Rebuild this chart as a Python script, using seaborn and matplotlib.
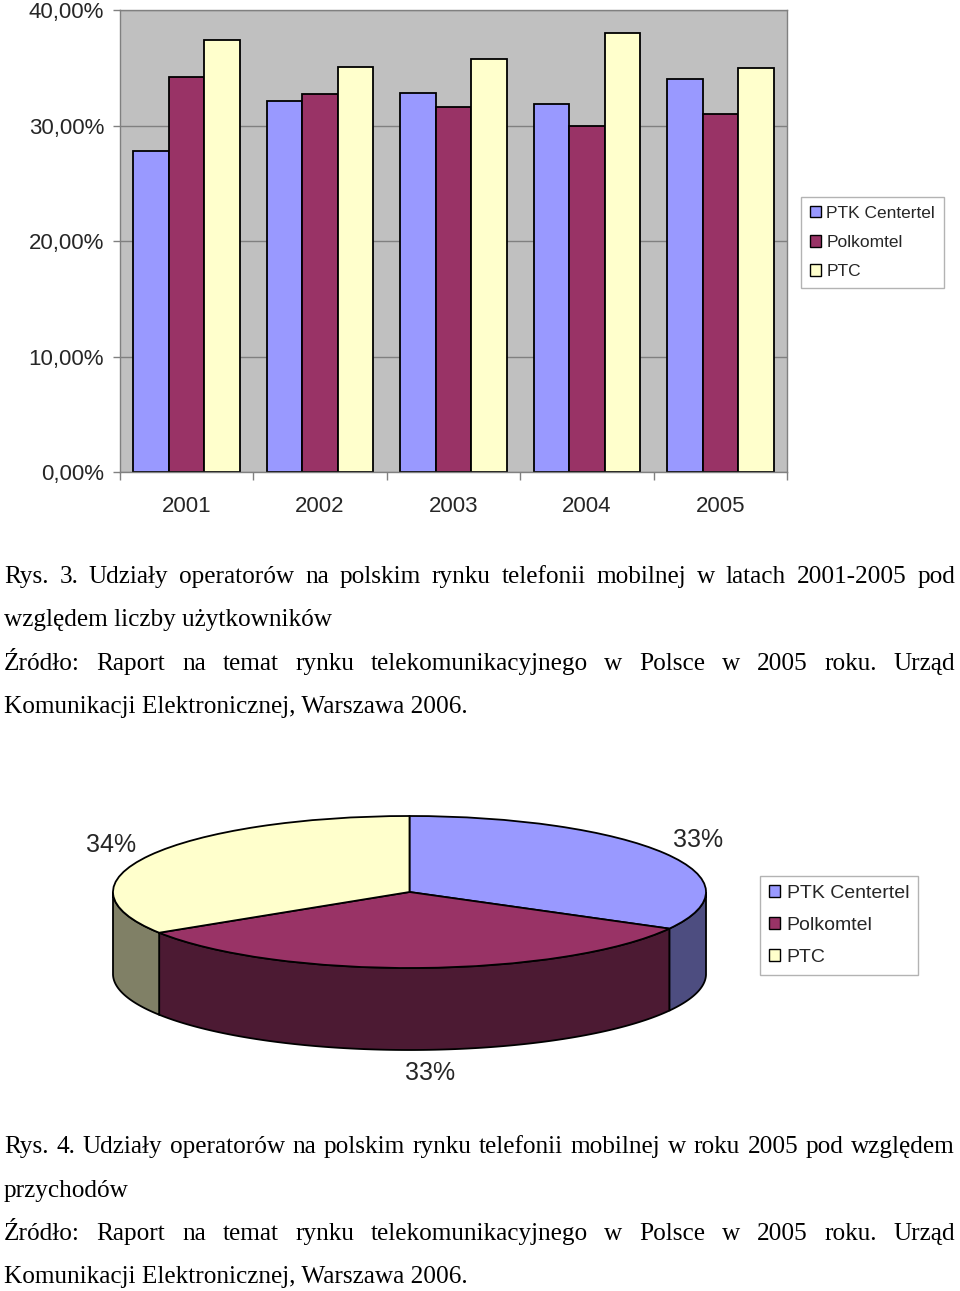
import numpy as np
import pandas as pd
import matplotlib
matplotlib.use("Agg")
import matplotlib.pyplot as plt
import seaborn as sns
from matplotlib.patches import Patch
from matplotlib.ticker import FuncFormatter, FixedLocator

# ---------------- data ----------------
years = ["2001", "2002", "2003", "2004", "2005"]
operators = ["PTK Centertel", "Polkomtel", "PTC"]
ptk_centertel = [27.8, 32.1, 32.8, 31.9, 34.0]
polkomtel = [34.2, 32.7, 31.6, 30.0, 31.0]
ptc = [37.4, 35.1, 35.8, 38.0, 35.0]
y_ticks = [0, 10, 20, 30, 40]
pie_shares = [33, 33, 34]          # PTK Centertel, Polkomtel, PTC (2005 revenue)

caption_3 = [
    ("Rys. 3. Udziały operatorów na polskim rynku telefonii mobilnej w latach 2001-2005 pod", True),
    ("względem liczby użytkowników", False),
    ("Źródło: Raport na temat rynku telekomunikacyjnego w Polsce w 2005 roku. Urząd", True),
    ("Komunikacji Elektronicznej, Warszawa 2006.", False),
]
caption_4 = [
    ("Rys. 4. Udziały operatorów na polskim rynku telefonii mobilnej w roku 2005 pod względem", True),
    ("przychodów", False),
    ("Źródło: Raport na temat rynku telekomunikacyjnego w Polsce w 2005 roku. Urząd", True),
    ("Komunikacji Elektronicznej, Warszawa 2006.", False),
]

# ---------------- style ----------------
colors = ["#9999FF", "#993366", "#FFFFCC"]
side_colors = ["#4D4D80", "#4C1A33", "#808066"]

sns.set_theme(style="white")
plt.rcParams["font.family"] = ["Liberation Sans", "DejaVu Sans"]

W, H = 960, 1291
fig = plt.figure(figsize=(W / 100, H / 100), dpi=100)


def px_rect(x0, y0, x1, y1):
    return [x0 / W, 1 - y1 / H, (x1 - x0) / W, (y1 - y0) / H]


# ---------------- bar chart ----------------
ax = fig.add_axes(px_rect(120, 10, 787, 472))
df = pd.DataFrame({
    "year": years * 3,
    "operator": np.repeat(operators, len(years)),
    "share": ptk_centertel + polkomtel + ptc,
})
sns.barplot(data=df, x="year", y="share", hue="operator", hue_order=operators,
            order=years, palette=colors, saturation=1, width=0.8,
            edgecolor="black", linewidth=1.3, legend=False, ax=ax)
ax.set_facecolor("#C0C0C0")
ax.set_ylim(0, 40)
ax.set_xlim(-0.5, len(years) - 0.5)
ax.set_xlabel("")
ax.set_ylabel("")
ax.yaxis.set_major_locator(FixedLocator(y_ticks))
ax.yaxis.set_major_formatter(FuncFormatter(lambda v, p: f"{v:.2f}".replace(".", ",") + "%"))
ax.yaxis.grid(True, color="#808080", linewidth=1)
ax.set_axisbelow(True)
for s in ax.spines.values():
    s.set_color("#808080")
    s.set_linewidth(1)
ax.tick_params(axis="y", which="major", length=5, width=1, color="#808080",
               direction="out", pad=6.5, labelsize=16, left=True)
ax.tick_params(axis="x", which="major", length=0, pad=17, labelsize=16)
ax.xaxis.set_minor_locator(FixedLocator(np.arange(-0.5, len(years), 1.0)))
ax.tick_params(axis="x", which="minor", length=6, width=1, color="#808080",
               direction="out", bottom=True)

bar_handles = [Patch(facecolor=c, edgecolor="black", linewidth=1) for c in colors]
fig.legend(bar_handles, operators, loc="upper left",
           bbox_to_anchor=(801 / W, 1 - 197 / H), frameon=True, fancybox=False,
           edgecolor="#A0A0A0", fontsize=12.5, handlelength=0.65, handleheight=0.65,
           handletextpad=0.3, labelspacing=0.82, borderpad=0.5, borderaxespad=0)

# ---------------- 3D-like pie ----------------
cx, cy, rx, ry, depth_px = 409.5, 892, 296.5, 76, 82
pax = fig.add_axes(px_rect(100, 800, 720, 1070))
wedges, _ = pax.pie(pie_shares, colors=colors, startangle=90, counterclock=False,
                    wedgeprops=dict(edgecolor="black", linewidth=1.3))
for w in wedges:
    w.set_zorder(3)
pax.set_aspect("auto")
pax.set_xlim(-(cx - 100) / rx, (720 - cx) / rx)
pax.set_ylim(-(1070 - cy) / ry, (cy - 800) / ry)
pax.axis("off")
depth = depth_px / ry

total = float(sum(pie_shares))
cum = 0.0
for share, sc in zip(pie_shares, side_colors):
    a_start = 90 - 360 * cum / total
    cum += share
    a_end = 90 - 360 * cum / total
    lo_s, hi_s = min(a_start, a_end), max(a_start, a_end)
    for k in range(-2, 2):
        lo = max(lo_s, -180 + 360 * k)
        hi = min(hi_s, 360 * k)
        if hi - lo > 1e-6:
            th = np.radians(np.linspace(lo, hi, 200))
            xs = np.concatenate([np.cos(th), np.cos(th[::-1])])
            ys = np.concatenate([np.sin(th), np.sin(th[::-1]) - depth])
            pax.fill(xs, ys, facecolor=sc, edgecolor="black", linewidth=1.3,
                     zorder=1, clip_on=False)

pie_label_pos = [(698, 840), (430, 1073), (111, 845)]
for share, (lx, ly) in zip(pie_shares, pie_label_pos):
    fig.text(lx / W, 1 - ly / H, f"{share}%", ha="center", va="center", fontsize=18)

fig.legend(bar_handles, operators, loc="upper left",
           bbox_to_anchor=(760 / W, 1 - 876 / H), frameon=True, fancybox=False,
           edgecolor="#A0A0A0", fontsize=14, handlelength=0.6, handleheight=0.6,
           handletextpad=0.32, labelspacing=0.78, borderpad=0.45, borderaxespad=0)

# ---------------- captions (justified) ----------------
renderer = fig.canvas.get_renderer()
LEFT, RIGHT = 4, 955
FONT = dict(family="Liberation Serif", fontsize=18.2, color="black")


def put_line(text, base_px, justify):
    y = 1 - base_px / H
    if not justify:
        fig.text(LEFT / W, y, text, ha="left", va="baseline", **FONT)
        return
    words = text.split(" ")
    objs = [fig.text(0, y, wd, ha="left", va="baseline", **FONT) for wd in words]
    widths = [o.get_window_extent(renderer).width for o in objs]
    gap = (RIGHT - LEFT - sum(widths)) / (len(words) - 1)
    x = LEFT
    for o, wdt in zip(objs, widths):
        o.set_x(x / W)
        x += wdt + gap


for (txt, j), b in zip(caption_3, [583, 626, 670, 713]):
    put_line(txt, b, j)
for (txt, j), b in zip(caption_4, [1153, 1197, 1240, 1283]):
    put_line(txt, b, j)

fig.savefig("out.png", dpi=100)
